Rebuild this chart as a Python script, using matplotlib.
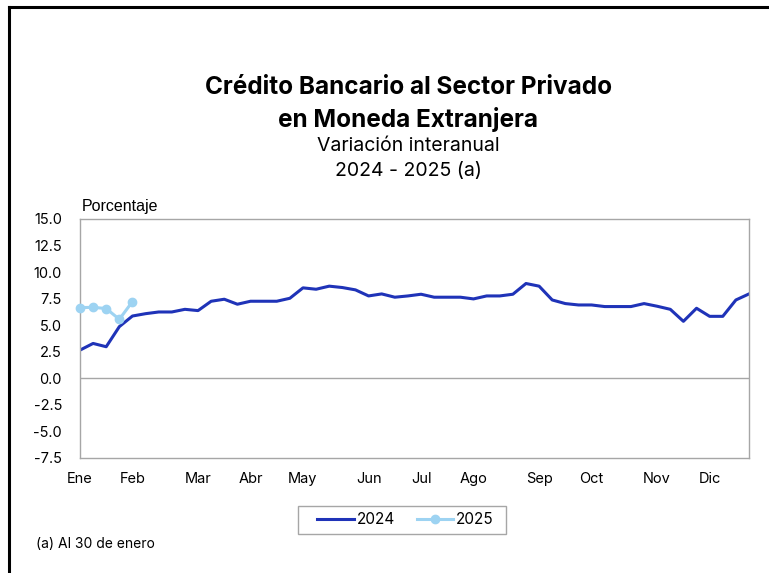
#!/usr/bin/env python3
# -*- coding: utf-8 -*-
"""Crédito bancario al sector privado en moneda extranjera - variación interanual"""

import matplotlib
matplotlib.use('Agg')
import matplotlib.pyplot as plt
from matplotlib.lines import Line2D
from matplotlib.patches import Rectangle

# datos semanales (porcentaje)
serie_2024 = [2.65, 3.28, 2.97, 4.86, 5.86, 6.08, 6.24, 6.24, 6.49, 6.37,
              7.25, 7.44, 6.97, 7.25, 7.25, 7.25, 7.53, 8.51, 8.38, 8.67,
              8.54, 8.32, 7.75, 7.94, 7.63, 7.75, 7.91, 7.63, 7.63, 7.63,
              7.47, 7.75, 7.75, 7.91, 8.92, 8.67, 7.37, 7.03, 6.90, 6.90,
              6.75, 6.75, 6.75, 7.03, 6.78, 6.49, 5.36, 6.59, 5.83, 5.83,
              7.37, 7.94]
serie_2025 = [6.65, 6.68, 6.56, 5.55, 7.22]

meses = ['Ene', 'Feb', 'Mar', 'Abr', 'May', 'Jun', 'Jul', 'Ago', 'Sep', 'Oct', 'Nov', 'Dic']
semana_mes = [0, 4, 9, 13, 17, 22, 26, 30, 35, 39, 44, 48]
y_ticks = [15.0, 12.5, 10.0, 7.5, 5.0, 2.5, 0.0, -2.5, -5.0, -7.5]

color_2024 = '#1f33b8'
color_2025 = '#9dd3f2'
gris = '#a6a6a6'

plt.rcParams['font.family'] = ['Inter', 'DejaVu Sans']

fig = plt.figure(figsize=(7.69, 5.73), dpi=100)
ax = fig.add_axes([0.104, 0.2007, 0.870, 0.4173])

ax.plot(range(len(serie_2024)), serie_2024, color=color_2024, lw=2.2, label='2024')
ax.plot(range(len(serie_2025)), serie_2025, color=color_2025, lw=2.2,
        marker='o', markersize=6, label='2025', clip_on=False, zorder=3)
ax.axhline(0, color=gris, lw=1.0, zorder=0)

ax.set_xlim(0, len(serie_2024) - 1)
ax.set_ylim(-7.5, 15.0)
ax.set_xticks(semana_mes)
ax.set_xticklabels(meses)
ax.set_yticks(y_ticks)
ax.set_yticklabels([f'{v:.1f}' for v in y_ticks])
ax.tick_params(length=0, labelsize=10.5, pad=10)
ax.tick_params(axis='y', pad=13)
for sp in ax.spines.values():
    sp.set_color(gris)
    sp.set_linewidth(1.0)

# leyenda sin marco propio; el recuadro se dibuja aparte
leg = ax.legend(loc='center', bbox_to_anchor=(0.4866, -0.2585), ncol=2,
                frameon=False, fontsize=11, handlelength=2.4,
                handletextpad=0.2, columnspacing=1.4, borderpad=0.0,
                borderaxespad=0)
fig.add_artist(Rectangle((298 / 769, 1 - 534 / 573), 208 / 769, 28 / 573,
                         transform=fig.transFigure, fill=False,
                         edgecolor=gris, lw=1.0))

# títulos
fig.text(0.531, 0.848, 'Crédito Bancario al Sector Privado', ha='center', va='center',
         fontsize=17.5, fontweight='bold')
fig.text(0.531, 0.792, 'en Moneda Extranjera', ha='center', va='center',
         fontsize=17.5, fontweight='bold')
fig.text(0.531, 0.745, 'Variación interanual', ha='center', va='center', fontsize=14)
fig.text(0.531, 0.701, '2024 - 2025 (a)', ha='center', va='center', fontsize=14)
fig.text(0.106, 0.640, 'Porcentaje', ha='left', va='center', fontsize=11.5,
         family=['Liberation Sans', 'DejaVu Sans'])
fig.text(0.047, 0.051, '(a) Al 30 de enero', ha='left', va='center', fontsize=10)

# marco parcial de la figura
fig.add_artist(Line2D([0.012, 1.0], [0.987, 0.987], transform=fig.transFigure,
                      color='black', lw=2.2))
fig.add_artist(Line2D([0.012, 0.012], [0.0, 0.987], transform=fig.transFigure,
                      color='black', lw=2.2))

fig.savefig('out.png', dpi=100, facecolor='white')
